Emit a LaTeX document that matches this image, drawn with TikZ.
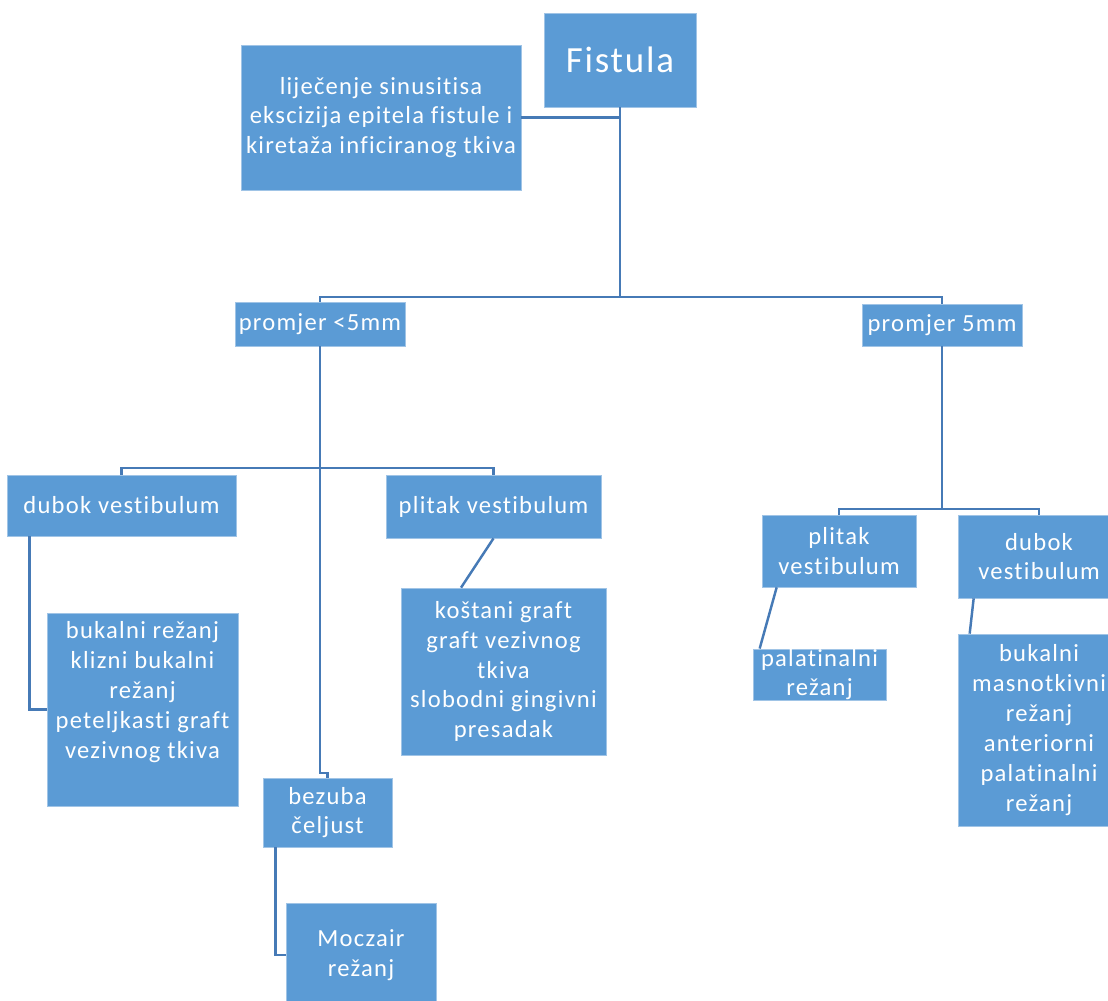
\documentclass[tikz,border=0pt]{standalone}
\usepackage{fontspec}
\setmainfont{Carlito}[LetterSpace=5, Ligatures=CommonOff]
\definecolor{boxblue}{RGB}{91,155,213}
\definecolor{boxedge}{RGB}{160,196,230}
\definecolor{linkblue}{RGB}{70,122,182}
\begin{document}
\begin{tikzpicture}[x=0.02cm, y=-0.02cm,
    box/.style={fill=boxblue, draw=boxedge, thin, text=white, align=center, inner sep=0pt,
        font=\fontsize{14}{17}\selectfont},
    link/.style={draw=linkblue, line width=1.4pt}]
\useasboundingbox (0,0) rectangle (1108,1000);
% top level
\node[box, minimum width=3.04cm, minimum height=1.88cm, font=\fontsize{21}{25}\selectfont] (fistula) at (620,60) {Fistula};
\node[box, minimum width=5.6cm, minimum height=2.9cm] (lijecenje) at (381,117.5) {lije\v{c}enje sinusitisa\\ ekscizija epitela fistule i\\ kireta\v{z}a inficiranog tkiva};
\node[box, minimum width=3.4cm, minimum height=.88cm] (manji) at (320,324) {promjer <5mm};
\node[box, minimum width=3.2cm, minimum height=.84cm] (veci) at (942,325) {promjer 5mm};
% promjer <5mm
\node[box, minimum width=4.58cm, minimum height=1.22cm] (dubokL) at (121.5,505.5) {dubok vestibulum};
\node[box, minimum width=4.3cm, minimum height=1.26cm] (plitakL) at (493.5,506.5) {plitak vestibulum};
\node[box, minimum width=3.82cm, minimum height=3.86cm] (bukL) at (142.5,709.5) {bukalni re\v{z}anj\\ klizni bukalni\\ re\v{z}anj\\ peteljkasti graft\\ vezivnog tkiva\\ \strut};
\node[box, minimum width=4.1cm, minimum height=3.34cm] (kostani) at (503.5,671.5) {ko\v{s}tani graft\\ graft vezivnog\\ tkiva\\ slobodni gingivni\\ presadak};
\node[box, minimum width=2.58cm, minimum height=1.38cm] (bezuba) at (327.5,812.5) {bezuba\\ \v{c}eljust};
\node[box, minimum width=3cm, minimum height=2.08cm] (moczair) at (361,955) {Moczair\\ re\v{z}anj};
% promjer 5mm
\node[box, minimum width=3.08cm, minimum height=1.44cm] (plitakR) at (839,551) {plitak\\ vestibulum};
\node[box, minimum width=3.24cm, minimum height=1.66cm] (dubokR) at (1039,556.5) {dubok\\ vestibulum};
\node[box, minimum width=2.66cm, minimum height=1.02cm] (palat) at (819.5,674.5) {palatinalni\\ re\v{z}anj};
\node[box, minimum width=3.24cm, minimum height=3.84cm] (bukR) at (1039,730) {bukalni\\ masnotkivni\\ re\v{z}anj\\ anteriorni\\ palatinalni\\ re\v{z}anj};

\coordinate (split1) at (620,297);
\coordinate (split2) at (320,468);
\coordinate (bend3) at (320,773);
\coordinate (split4) at (942,509);

\draw[link] (fistula.south) -- (split1) -| (manji.north);
\draw[link] (split1) -| (veci.north);
\draw[link] (lijecenje.east) -- (lijecenje.east -| fistula.south);
\draw[link] (manji.south) -- (split2) -| (dubokL.north);
\draw[link] (split2) -| (plitakL.north);
\draw[link] (split2) -- (bend3) -| (bezuba.north);
\draw[link] ([xshift=.46cm]dubokL.south west) |- (bukL.west);
\draw[link] (plitakL.south) -- ([xshift=-.85cm]kostani.north);
\draw[link] ([xshift=.26cm]bezuba.south west) |- (moczair.west);
\draw[link] (veci.south) -- (split4) -| (plitakR.north);
\draw[link] (split4) -| (dubokR.north);
\draw[link] ([xshift=.3cm]plitakR.south west) -- ([xshift=.14cm]palat.north west);
\draw[link] ([xshift=.32cm]dubokR.south west) -- ([xshift=.24cm]bukR.north west);
\end{tikzpicture}
\end{document}
